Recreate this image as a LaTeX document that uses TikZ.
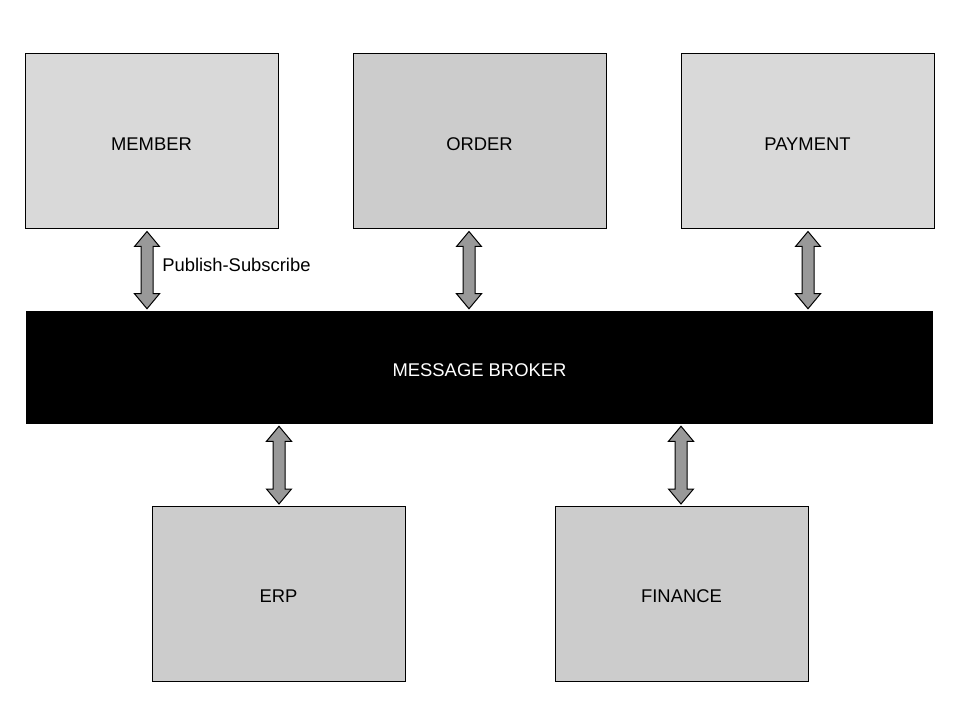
\documentclass[tikz,border=0pt]{standalone}
\usepackage{fontspec}
\setmainfont{Liberation Sans}
\usetikzlibrary{calc}
\tikzstyle{service} = [rectangle, 
minimum width=189.75pt, 
minimum height=131.25pt,
text centered, 
draw=black,
line width=0.75pt,
font=\fontsize{13.8}{16}\selectfont]
\tikzstyle{broker} = [rectangle, 
minimum width=680.25pt, 
minimum height=84.75pt,
fill=black,
text=white,
font=\fontsize{13.8}{16}\selectfont]
\tikzstyle{pipe} = [fill=black!40, draw=black, line width=0.75pt, line join=miter]
\newcommand{\lbl}[1]{\raisebox{-6.4pt}[0pt][0pt]{#1}}
\newcommand{\biarrow}[2]{%
  \draw[pipe] (#1) -- ($(#1)+(12.5,15)$) -- ($(#1)+(6,15)$) -- ($(#2)+(6,-15)$) -- ($(#2)+(12.5,-15)$) -- (#2)
    -- ($(#2)+(-12.5,-15)$) -- ($(#2)+(-6,-15)$) -- ($(#1)+(-6,15)$) -- ($(#1)+(-12.5,15)$) -- cycle;}

\begin{document}
\begin{tikzpicture}[x=0.75pt,y=-0.75pt]
        \useasboundingbox (0,0) rectangle (960,720);
        \node (member) [service, fill=black!15] at (151.5,141.5) {\lbl{MEMBER}};
        \node (order) [service, fill=black!20] at (479.5,141.5) {\lbl{ORDER}};
        \node (payment) [service, fill=black!15] at (807.5,141.5) {\lbl{PAYMENT}};
        \node (mb) [broker] at (479.5,367.5) {\lbl{MESSAGE BROKER}};
        \node (erp) [service, fill=black!20] at (278.5,594) {\lbl{ERP}};
        \node (finance) [service, fill=black!20] at (681.5,594) {\lbl{FINANCE}};
        % arrow end points
        \coordinate (m1) at ($(member.south)+(-4.5,2)$);
        \coordinate (m2) at ($(m1 |- mb.north)+(0,-2)$);
        \coordinate (o1) at ($(order.south)+(-10.5,2)$);
        \coordinate (o2) at ($(o1 |- mb.north)+(0,-2)$);
        \coordinate (p1) at ($(payment.south)+(0.5,2)$);
        \coordinate (p2) at ($(p1 |- mb.north)+(0,-2)$);
        \coordinate (e1) at ($(erp.north |- mb.south)+(0.5,2)$);
        \coordinate (e2) at ($(erp.north)+(0.5,-2)$);
        \coordinate (f1) at ($(finance.north |- mb.south)+(-0.5,2)$);
        \coordinate (f2) at ($(finance.north)+(-0.5,-2)$);
        \biarrow{m1}{m2}
        \biarrow{o1}{o2}
        \biarrow{p1}{p2}
        \biarrow{e1}{e2}
        \biarrow{f1}{f2}
        \node (ps) [anchor=west, inner sep=0pt, font=\fontsize{13.8}{16}\selectfont] at ($(m1)!0.5!(m2)+(15,-5)$) {Publish-Subscribe};
    \end{tikzpicture}
\end{document}
